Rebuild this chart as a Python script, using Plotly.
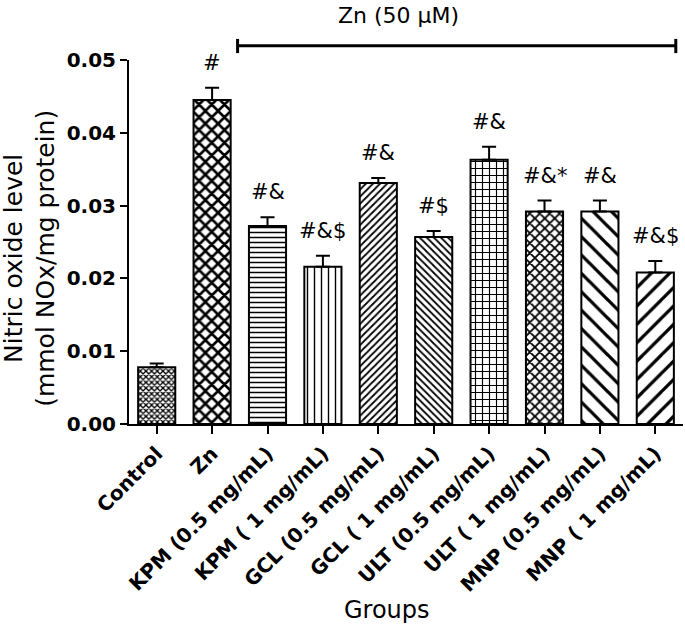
import plotly.graph_objects as go

groups = ["Control", "Zn", "KPM (0.5 mg/mL)", "KPM ( 1 mg/mL)", "GCL (0.5 mg/mL)",
          "GCL ( 1 mg/mL)", "ULT (0.5 mg/mL)", "ULT ( 1 mg/mL)", "MNP (0.5 mg/mL)",
          "MNP ( 1 mg/mL)"]
no_level = [0.0078, 0.0445, 0.0272, 0.0216, 0.0331, 0.0257, 0.0363, 0.0292, 0.0292, 0.0208]
sem = [0.0005, 0.0017, 0.0012, 0.0015, 0.0007, 0.0008, 0.0018, 0.0015, 0.0015, 0.0016]
sig_labels = ["", "#", "#&", "#&$", "#&", "#$", "#&", "#&*", "#&", "#&$"]
y_ticks = [0.0, 0.01, 0.02, 0.03, 0.04, 0.05]
y_tick_text = ["0.00", "0.01", "0.02", "0.03", "0.04", "0.05"]

pat_shape = ["x", "x", "-", "|", "/", "\\", "+", "x", "\\", "/"]
pat_size = [4, 9, 5, 7, 5, 5, 7, 7, 13, 13]
pat_solid = [0.55, 0.5, 0.3, 0.2, 0.35, 0.35, 0.3, 0.45, 0.25, 0.25]

FONT = "DejaVu Sans"

fig = go.Figure()
fig.add_trace(go.Bar(
    x=groups, y=no_level, width=0.67,
    marker=dict(color="white", line=dict(color="black", width=2),
                pattern=dict(shape=pat_shape, size=pat_size, solidity=pat_solid,
                             fgcolor="black", bgcolor="white", fillmode="replace")),
    error_y=dict(type="data", symmetric=False, array=sem, arrayminus=[0] * len(sem),
                 color="black", thickness=2, width=7),
    showlegend=False,
))

for g, v, e, s in zip(groups, no_level, sem, sig_labels):
    if s:
        fig.add_annotation(x=g, y=v + e, text=s, showarrow=False, yanchor="bottom",
                           yshift=11, font=dict(family=FONT, size=21, color="black"))

# Zn bracket
fig.add_shape(type="line", xref="x", yref="paper", x0=1.46, x1=9.37, y0=1.039, y1=1.039,
              line=dict(color="black", width=3))
fig.add_shape(type="line", xref="x", yref="paper", x0=1.46, x1=1.46, y0=1.019, y1=1.058,
              line=dict(color="black", width=3))
fig.add_shape(type="line", xref="x", yref="paper", x0=9.37, x1=9.37, y0=1.019, y1=1.058,
              line=dict(color="black", width=3))
fig.add_annotation(x=4.37, xref="x", y=1.122, yref="paper", text="Zn (50 μM)",
                   showarrow=False, xanchor="center", yanchor="middle",
                   font=dict(family=FONT, size=22, color="black"))

fig.add_annotation(x=-0.179, xref="paper", y=0.456, yref="paper", xanchor="center",
                   yanchor="middle",
                   text="Nitric oxide level<br>(mmol NOx/mg protein)", textangle=-90,
                   showarrow=False, font=dict(family=FONT, size=25, color="black"))
fig.add_annotation(x=(386.7 - 129) / 554, xref="paper", y=-(610 - 424) / 364, yref="paper",
                   xanchor="center", yanchor="middle",
                   text="Groups", showarrow=False,
                   font=dict(family=FONT, size=24, color="black"))

fig.update_layout(
    width=685, height=625,
    margin=dict(l=129, r=2, t=60, b=201),
    paper_bgcolor="white", plot_bgcolor="white",
    font=dict(family=FONT, color="black"),
    bargap=0.33,
)
fig.update_xaxes(range=[-0.5, 9.5], showline=True, linecolor="black", linewidth=2,
                 ticks="outside", ticklen=8, tickwidth=2, tickcolor="black",
                 tickangle=-45, tickfont=dict(family=FONT, size=20, color="black", weight="bold"),
                 showgrid=False, zeroline=False)
fig.update_yaxes(range=[0, 0.05], showline=True, linecolor="black", linewidth=2,
                 ticks="outside", ticklen=7, tickwidth=2, tickcolor="black",
                 tickvals=y_ticks, ticktext=y_tick_text,
                 tickfont=dict(family=FONT, size=20, color="black", weight="bold"),
                 showgrid=False, zeroline=False)

fig.write_html("out.html", config={"displayModeBar": False},
               post_script="document.body.style.margin='0px';")
